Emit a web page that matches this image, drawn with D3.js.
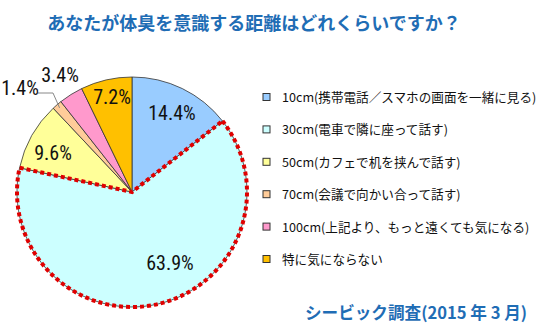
<!DOCTYPE html>
<html><head><meta charset="utf-8">
<script src="https://cdn.jsdelivr.net/npm/d3@7"></script>
<style>body{margin:0;background:#fff}</style>
</head><body>
<svg id="c" width="550" height="329"></svg>
<script>
const categories = ["10cm(携帯電話／スマホの画面を一緒に見る)","30cm(電車で隣に座って話す)","50cm(カフェで机を挟んで話す)","70cm(会議で向かい合って話す)","100cm(上記より、もっと遠くても気になる)","特に気にならない"];
const values = [14.4, 63.9, 9.6, 1.4, 3.4, 7.2];
const colors = ["#99ccff","#ccffff","#ffff99","#ffcc99","#ff99cc","#ffc000"];
const labelPos = [[172,113],[170,263],[53,153],[20,88],[60,75],[112,97]];
const title = "あなたが体臭を意識する距離はどれくらいですか？";
const footer = "シービック調査(2015 年 3 月)";

const svg = d3.select("#c");
const cx = 132, cy = 192, r = 115;
const numFont = "'Liberation Sans Narrow','Roboto Condensed','Arial Narrow',sans-serif";
const jpFont = "'Noto Sans CJK JP',sans-serif";

svg.append("text").attr("x", 254).attr("y", 30).attr("text-anchor","middle")
  .attr("font-family", jpFont).attr("font-weight","bold").attr("font-size", 18)
  .attr("fill","#1f6db5").text(title);

const pie = d3.pie().sort(null).value(d=>d);
const arcs = pie(values);
const arc = d3.arc().innerRadius(0).outerRadius(r);
const g = svg.append("g").attr("transform",`translate(${cx},${cy})`);
g.selectAll("path.s").data(arcs).join("path").attr("class","s")
  .attr("d", arc).attr("fill",(d,i)=>colors[i]).attr("stroke","#333").attr("stroke-width",0.8);
// red dotted highlight on 63.9% slice
g.append("path").attr("d", arc(arcs[1])).attr("fill","none")
  .attr("stroke","#e00000").attr("stroke-width",4).attr("stroke-dasharray","4,3");

// leader line for 1.4%
const a3 = (arcs[3].startAngle+arcs[3].endAngle)/2;
const ex = cx + Math.sin(a3)*(r-4), ey = cy - Math.cos(a3)*(r-4);
svg.append("polyline").attr("points",`38,93 53,93 ${ex},${ey}`)
  .attr("fill","none").attr("stroke","#888").attr("stroke-width",1);

svg.selectAll("text.pl").data(values).join("text").attr("class","pl")
  .attr("x",(d,i)=>labelPos[i][0]).attr("y",(d,i)=>labelPos[i][1]+7)
  .attr("text-anchor","middle").attr("font-family",numFont).attr("font-size",20)
  .attr("fill","#111").text(d=>d.toFixed(1)+"%");

const y = d3.scalePoint().domain(categories).range([97,259]);
const lg = svg.append("g");
categories.forEach((c,i)=>{
  lg.append("rect").attr("x",263).attr("y",y(c)-3.5).attr("width",7).attr("height",7)
    .attr("fill",colors[i]).attr("stroke","#333").attr("stroke-width",1);
  lg.append("text").attr("x",282).attr("y",y(c)+5).attr("font-family",jpFont)
    .attr("font-size",12.6).attr("fill","#111").text(c);
});

svg.append("text").attr("x",305).attr("y",319).attr("font-family",jpFont)
  .attr("font-weight","bold").attr("font-size",16.6).attr("fill","#1f6db5").text(footer);
</script>
</body></html>
